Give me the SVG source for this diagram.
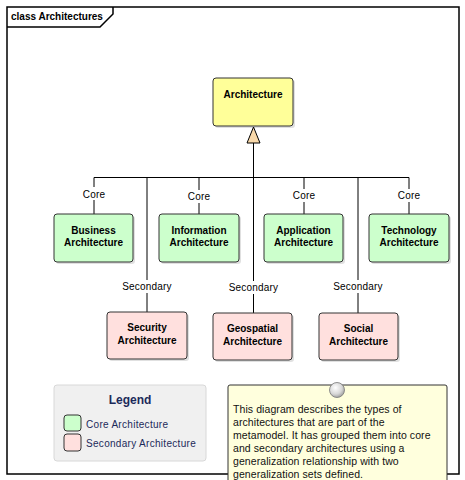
<svg xmlns="http://www.w3.org/2000/svg" width="465" height="480" viewBox="0 0 465 480">
<defs>
<style>
text{font-family:"Liberation Sans",Arial,sans-serif;}
.frame{fill:none;stroke:#000;stroke-width:1.5}
.cls{stroke:#333;stroke-width:1}
.core{fill:#CCFFCC}
.sec{fill:#FFE0DE}
.top{fill:#FFFF99}
.shadow{fill:#000;opacity:0.12}
.name{font-size:10px;font-weight:bold;fill:#000;text-anchor:middle}
.lbl{font-size:10px;fill:#000;text-anchor:middle;letter-spacing:0.2px}
.conn{stroke:#000;stroke-width:1;fill:none}
.lblbg{fill:#fff}
.note{font-size:10.5px;fill:#111;letter-spacing:0.08px}
.leg{font-size:10px;fill:#1C2A5A;letter-spacing:0.3px}
</style>
<radialGradient id="ball" cx="0.4" cy="0.35" r="0.7">
<stop offset="0" stop-color="#ffffff"/>
<stop offset="0.6" stop-color="#d8d8d8"/>
<stop offset="1" stop-color="#9a9a9a"/>
</radialGradient>
</defs>
<rect width="465" height="480" fill="#fff"/>
<g id="frame">
<rect class="frame" x="7" y="7" width="452" height="467"/>
<path class="frame" d="M7,27 L100,27 L113,14 L113,7"/>
<text x="11" y="20" font-size="10" font-weight="bold">class Architectures</text>
</g>
<g id="connectors">
<path class="conn" d="M253.5,143 V313"/>
<path class="conn" d="M94,214 V177.5 H409 V214"/>
<path class="conn" d="M147,177.5 V312"/>
<path class="conn" d="M199,177.5 V214"/>
<path class="conn" d="M304,177.5 V214"/>
<path class="conn" d="M358,177.5 V313"/>
<polygon points="253.5,127 247,143 260,143" fill="#F9D9AA" stroke="#000" stroke-width="1"/>
<rect class="lblbg" x="80" y="187" width="28" height="13"/>
<text class="lbl" x="94" y="197.5">Core</text>
<rect class="lblbg" x="185" y="190" width="28" height="13"/>
<text class="lbl" x="199" y="200">Core</text>
<rect class="lblbg" x="290" y="189" width="28" height="13"/>
<text class="lbl" x="304" y="199">Core</text>
<rect class="lblbg" x="395" y="189" width="28" height="13"/>
<text class="lbl" x="409" y="199">Core</text>
<rect class="lblbg" x="121" y="280" width="52" height="13"/>
<text class="lbl" x="147" y="290">Secondary</text>
<rect class="lblbg" x="227" y="281" width="53" height="13"/>
<text class="lbl" x="253.5" y="291">Secondary</text>
<rect class="lblbg" x="332" y="280" width="52" height="13"/>
<text class="lbl" x="358" y="290">Secondary</text>
</g>
<g id="architecture">
<rect class="shadow" x="215" y="80" width="80" height="48" rx="3"/>
<rect class="cls top" x="213" y="78" width="80" height="48" rx="3"/>
<text class="name" x="253" y="98">Architecture</text>
</g>
<g id="business">
<rect class="shadow" x="56" y="216" width="79" height="48" rx="3"/>
<rect class="cls core" x="54" y="214" width="79" height="48" rx="3"/>
<text class="name" x="93.5" y="234">Business</text>
<text class="name" x="93.5" y="246">Architecture</text>
</g>
<g id="information">
<rect class="shadow" x="161" y="216" width="80" height="48" rx="3"/>
<rect class="cls core" x="159" y="214" width="80" height="48" rx="3"/>
<text class="name" x="199" y="234">Information</text>
<text class="name" x="199" y="246">Architecture</text>
</g>
<g id="application">
<rect class="shadow" x="266" y="216" width="79" height="48" rx="3"/>
<rect class="cls core" x="264" y="214" width="79" height="48" rx="3"/>
<text class="name" x="303.5" y="234">Application</text>
<text class="name" x="303.5" y="246">Architecture</text>
</g>
<g id="technology">
<rect class="shadow" x="371" y="216" width="80" height="48" rx="3"/>
<rect class="cls core" x="369" y="214" width="80" height="48" rx="3"/>
<text class="name" x="409" y="234">Technology</text>
<text class="name" x="409" y="246">Architecture</text>
</g>
<g id="security">
<rect class="shadow" x="109" y="314" width="80" height="47" rx="3"/>
<rect class="cls sec" x="107" y="312" width="80" height="47" rx="3"/>
<text class="name" x="147" y="331">Security</text>
<text class="name" x="147" y="344">Architecture</text>
</g>
<g id="geospatial">
<rect class="shadow" x="215" y="315" width="79" height="47" rx="3"/>
<rect class="cls sec" x="213" y="313" width="79" height="47" rx="3"/>
<text class="name" x="252.5" y="332">Geospatial</text>
<text class="name" x="252.5" y="345">Architecture</text>
</g>
<g id="social">
<rect class="shadow" x="321" y="315" width="79" height="47" rx="3"/>
<rect class="cls sec" x="319" y="313" width="79" height="47" rx="3"/>
<text class="name" x="358.5" y="332">Social</text>
<text class="name" x="358.5" y="345">Architecture</text>
</g>
<g id="legend">
<rect x="54" y="385" width="152" height="76" rx="3" fill="#F0F0F0" stroke="#D8D8D8" stroke-width="1"/>
<text x="130" y="404" font-size="12" font-weight="bold" fill="#1C2A5A" text-anchor="middle">Legend</text>
<rect class="core" x="64" y="415" width="17" height="16" rx="3" stroke="#333" stroke-width="1"/>
<text class="leg" x="86" y="427.5">Core Architecture</text>
<rect class="sec" x="64" y="434" width="17" height="17" rx="3" stroke="#333" stroke-width="1"/>
<text class="leg" x="86" y="446.5">Secondary Architecture</text>
</g>
<g id="note">
<rect x="228" y="385" width="219" height="100" rx="2" fill="#FFFFDD" stroke="#333" stroke-width="1"/>
<circle cx="337" cy="390" r="7.5" fill="url(#ball)" stroke="#777" stroke-width="0.8"/>
<text class="note" x="233" y="412.5">This diagram describes the types of</text>
<text class="note" x="233" y="425.5">architectures that are part of the</text>
<text class="note" x="233" y="438.5">metamodel. It has grouped them into core</text>
<text class="note" x="233" y="451.5">and secondary architectures using a</text>
<text class="note" x="233" y="464.5">generalization relationship with two</text>
<text class="note" x="233" y="477.5">generalization sets defined.</text>
</g>
</svg>
